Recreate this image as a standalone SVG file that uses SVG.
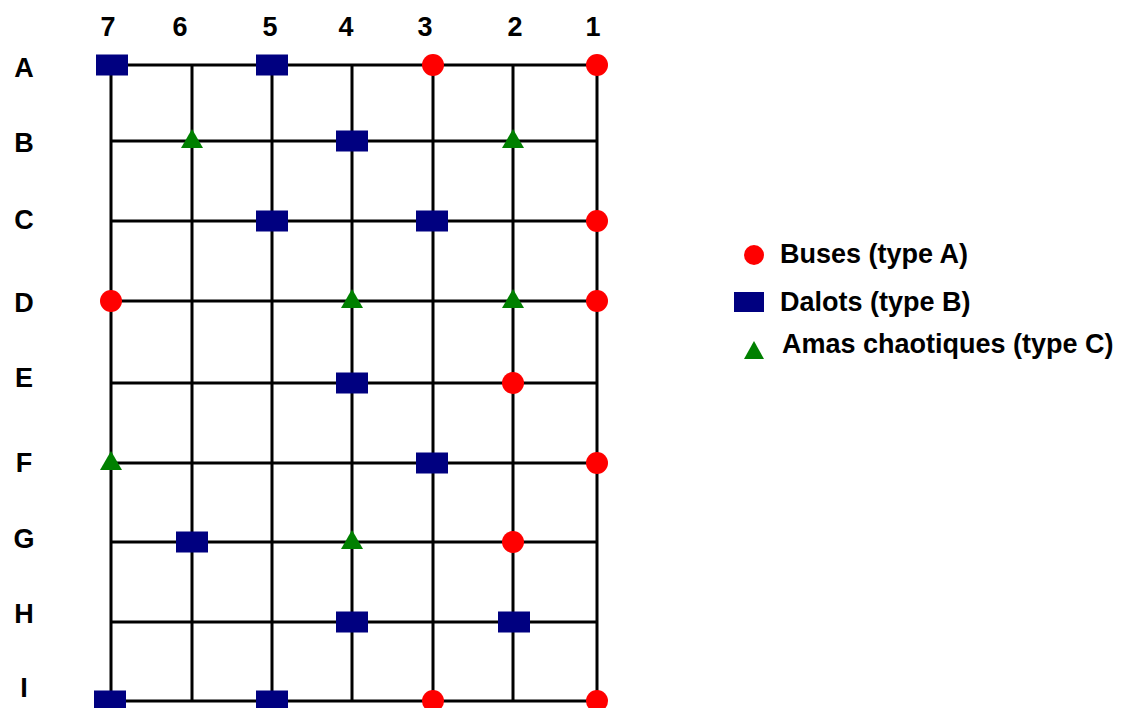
<svg xmlns="http://www.w3.org/2000/svg" xmlns:xlink="http://www.w3.org/1999/xlink" width="1130" height="708" viewBox="0 0 1130 708">
  <style>
    .grid line { stroke: #000; stroke-width: 3; }
    .lbl { font-family: "Liberation Sans", Arial, sans-serif; font-weight: bold; font-size: 27px; fill: #000; text-anchor: middle; }
    .leg { font-family: "Liberation Sans", Arial, sans-serif; font-weight: bold; font-size: 27px; fill: #000; }
    .buse { fill: #ff0000; }
    .dalot { fill: #000080; }
    .amas { fill: #008000; }
  </style>
  <defs>
    <!-- type A: buse -->
    <circle id="mA" class="buse" cx="0" cy="0" r="11"/>
    <!-- type B: dalot -->
    <rect id="mB" class="dalot" x="-16" y="-10.5" width="32" height="21"/>
    <!-- type C: amas chaotique -->
    <polygon id="mC" class="amas" points="0,-12 11,7 -11,7"/>
  </defs>
  <rect width="1130" height="708" fill="#fff"/>

  <!-- column headers -->
  <g id="col-labels">
    <text class="lbl" x="108" y="36">7</text>
    <text class="lbl" x="180" y="36">6</text>
    <text class="lbl" x="270" y="36">5</text>
    <text class="lbl" x="346" y="36">4</text>
    <text class="lbl" x="425" y="36">3</text>
    <text class="lbl" x="515" y="36">2</text>
    <text class="lbl" x="593" y="36">1</text>
  </g>

  <!-- row headers -->
  <g id="row-labels">
    <text class="lbl" x="24" y="77">A</text>
    <text class="lbl" x="24" y="152">B</text>
    <text class="lbl" x="24" y="229">C</text>
    <text class="lbl" x="24" y="312">D</text>
    <text class="lbl" x="24" y="387">E</text>
    <text class="lbl" x="24" y="472">F</text>
    <text class="lbl" x="24" y="548">G</text>
    <text class="lbl" x="24" y="623">H</text>
    <text class="lbl" x="24" y="697">I</text>
  </g>

  <!-- network lines -->
  <g id="connectors" class="grid">
    <line x1="111" y1="65" x2="597" y2="65"/>
    <line x1="111" y1="141" x2="597" y2="141"/>
    <line x1="111" y1="221" x2="597" y2="221"/>
    <line x1="111" y1="301" x2="597" y2="301"/>
    <line x1="111" y1="383" x2="597" y2="383"/>
    <line x1="111" y1="463" x2="597" y2="463"/>
    <line x1="111" y1="542" x2="597" y2="542"/>
    <line x1="111" y1="622" x2="597" y2="622"/>
    <line x1="111" y1="701" x2="597" y2="701"/>
    <line x1="111" y1="65" x2="111" y2="701"/>
    <line x1="192" y1="65" x2="192" y2="701"/>
    <line x1="272" y1="65" x2="272" y2="701"/>
    <line x1="352" y1="65" x2="352" y2="701"/>
    <line x1="433" y1="65" x2="433" y2="701"/>
    <line x1="513" y1="65" x2="513" y2="701"/>
    <line x1="597" y1="65" x2="597" y2="701"/>
  </g>

  <!-- structures at grid nodes -->
  <g id="A7"><use xlink:href="#mB" x="112" y="65"/></g>
  <g id="A5"><use xlink:href="#mB" x="272" y="65"/></g>
  <g id="A3"><use xlink:href="#mA" x="433" y="65"/></g>
  <g id="A1"><use xlink:href="#mA" x="597" y="65"/></g>

  <g id="B6"><use xlink:href="#mC" x="192" y="141"/></g>
  <g id="B4"><use xlink:href="#mB" x="352" y="141"/></g>
  <g id="B2"><use xlink:href="#mC" x="513" y="141"/></g>

  <g id="C5"><use xlink:href="#mB" x="272" y="221"/></g>
  <g id="C3"><use xlink:href="#mB" x="432" y="221"/></g>
  <g id="C1"><use xlink:href="#mA" x="597" y="221"/></g>

  <g id="D7"><use xlink:href="#mA" x="111" y="301"/></g>
  <g id="D4"><use xlink:href="#mC" x="352" y="301"/></g>
  <g id="D2"><use xlink:href="#mC" x="513" y="301"/></g>
  <g id="D1"><use xlink:href="#mA" x="597" y="301"/></g>

  <g id="E4"><use xlink:href="#mB" x="352" y="383"/></g>
  <g id="E2"><use xlink:href="#mA" x="513" y="383"/></g>

  <g id="F7"><use xlink:href="#mC" x="111" y="463"/></g>
  <g id="F3"><use xlink:href="#mB" x="432" y="463"/></g>
  <g id="F1"><use xlink:href="#mA" x="597" y="463"/></g>

  <g id="G6"><use xlink:href="#mB" x="192" y="542"/></g>
  <g id="G4"><use xlink:href="#mC" x="352" y="542"/></g>
  <g id="G2"><use xlink:href="#mA" x="513" y="542"/></g>

  <g id="H4"><use xlink:href="#mB" x="352" y="622"/></g>
  <g id="H2"><use xlink:href="#mB" x="514" y="622"/></g>

  <g id="I7"><use xlink:href="#mB" x="110" y="701"/></g>
  <g id="I5"><use xlink:href="#mB" x="272" y="701"/></g>
  <g id="I3"><use xlink:href="#mA" x="433" y="701"/></g>
  <g id="I1"><use xlink:href="#mA" x="597" y="701"/></g>

  <!-- legend -->
  <g id="legend">
    <g id="legend-buses">
      <circle class="buse" cx="754" cy="255" r="10"/>
      <text class="leg" x="780" y="263">Buses (type A)</text>
    </g>
    <g id="legend-dalots">
      <rect class="dalot" x="734" y="292" width="30" height="20"/>
      <text class="leg" x="780" y="311">Dalots (type B)</text>
    </g>
    <g id="legend-amas">
      <polygon class="amas" points="754,341 764,359 744,359"/>
      <text class="leg" x="782" y="353">Amas chaotiques (type C)</text>
    </g>
  </g>
</svg>
